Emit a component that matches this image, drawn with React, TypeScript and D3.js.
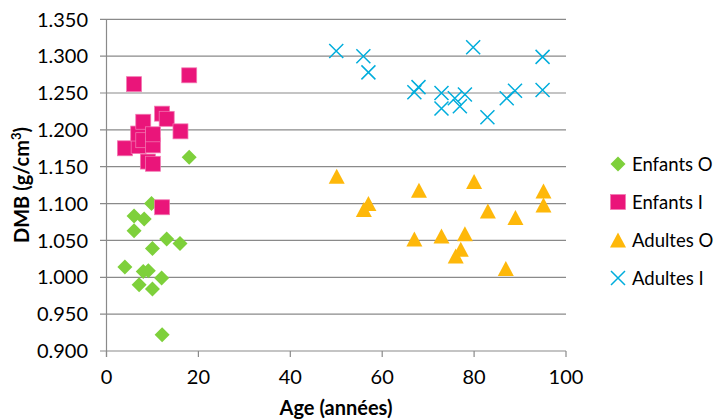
import React from "react";
import * as d3 from "d3";

const enfantsO: [number, number][] = [
  [9.8, 1.1], [6.0, 1.083], [8.2, 1.079], [6.0, 1.063], [13.1, 1.052], [16.0, 1.046],
  [10.0, 1.039], [4.0, 1.014], [8.0, 1.008], [9.1, 1.009], [12.0, 0.999], [7.1, 0.99],
  [10.0, 0.984], [12.1, 0.922], [18.0, 1.163],
];
const enfantsI: [number, number][] = [
  [4.0, 1.175], [6.0, 1.262], [7.0, 1.178], [6.9, 1.195], [8.0, 1.211], [8.0, 1.186],
  [9.0, 1.157], [10.1, 1.154], [10.1, 1.179], [10.1, 1.194], [12.1, 1.222], [13.1, 1.215],
  [16.1, 1.198], [18.0, 1.274], [12.1, 1.095],
];
const adultesO: [number, number][] = [
  [50.1, 1.137], [57.0, 1.1], [56.0, 1.092], [68.0, 1.118], [80.0, 1.13], [95.1, 1.117],
  [95.1, 1.098], [83.0, 1.09], [89.0, 1.081], [67.0, 1.052], [72.9, 1.056], [78.0, 1.059],
  [77.1, 1.038], [76.0, 1.029], [86.9, 1.012],
];
const adultesI: [number, number][] = [
  [50.0, 1.307], [55.9, 1.3], [57.0, 1.278], [67.0, 1.251], [67.9, 1.258], [72.9, 1.25],
  [72.9, 1.229], [75.8, 1.243], [76.9, 1.232], [78.0, 1.248], [79.8, 1.312], [82.9, 1.217],
  [87.1, 1.243], [88.9, 1.253], [94.9, 1.299], [94.9, 1.254],
];
const xTicks = [0, 20, 40, 60, 80, 100];
const yTicks = [0.9, 0.95, 1.0, 1.05, 1.1, 1.15, 1.2, 1.25, 1.3, 1.35];
const seriesNames = ["Enfants O", "Enfants I", "Adultes O", "Adultes I"];
const colors = ["#7ED03B", "#EA157A", "#FEB80A", "#00ADDC"];

const FONT = "Lato, 'Open Sans', sans-serif";

function Marker({ kind, x, y }: { kind: number; x: number; y: number }) {
  const c = colors[kind];
  if (kind === 0) {
    const r = 7.5;
    return <path d={`M${x},${y - r}L${x + r},${y}L${x},${y + r}L${x - r},${y}Z`} fill={c} />;
  }
  if (kind === 1) {
    const s = 15;
    return <rect x={x - s / 2} y={y - s / 2} width={s} height={s} fill={c} stroke="#f27ab3" strokeWidth={0.75} />;
  }
  if (kind === 2) {
    const w = 16, h = 15;
    return <path d={`M${x},${y - h / 2}L${x + w / 2},${y + h / 2}L${x - w / 2},${y + h / 2}Z`} fill={c} />;
  }
  const r = 7;
  return (
    <path d={`M${x - r},${y - r}L${x + r},${y + r}M${x - r},${y + r}L${x + r},${y - r}`} stroke={c} strokeWidth={1.5} fill="none" />
  );
}

export default function App() {
  const W = 715, H = 420;
  const x = d3.scaleLinear().domain([0, 100]).range([106.5, 566]);
  const y = d3.scaleLinear().domain([0.9, 1.35]).range([351, 19.3]);
  const data = [enfantsO, enfantsI, adultesO, adultesI];
  const grid = "#8a8a8a";
  const legendY = [164, 202, 240, 278];
  const fs = 20;
  return (
    <svg width={W} height={H} style={{ position: "absolute", left: 0, top: 0 }} fontFamily={FONT}>
      <rect width={W} height={H} fill="#fff" />
      {yTicks.map((t) => (
        <g key={t}>
          <line x1={100} x2={566} y1={y(t)} y2={y(t)} stroke={grid} strokeWidth={1.2} />
          <text x={88} y={y(t)} dy="0.36em" textAnchor="end" fontSize={fs} fill="#000">
            {d3.format(".3f")(t)}
          </text>
        </g>
      ))}
      <line x1={x(0)} x2={x(0)} y1={y(1.35)} y2={y(0.9) + 6} stroke={grid} strokeWidth={1.2} />
      {xTicks.map((t) => (
        <g key={t}>
          <line x1={x(t)} x2={x(t)} y1={y(0.9)} y2={y(0.9) + 6} stroke={grid} strokeWidth={1.2} />
          <text x={x(t)} y={384} textAnchor="middle" fontSize={fs} fill="#000">
            {t}
          </text>
        </g>
      ))}
      {data.map((s, k) => (
        <g key={k}>
          {s.map((d, i) => (
            <Marker key={i} kind={k} x={x(d[0])} y={y(d[1])} />
          ))}
        </g>
      ))}
      <text x={336} y={415} textAnchor="middle" fontSize={fs} fontWeight="bold">
        Age (années)
      </text>
      <text transform={`translate(29,185) rotate(-90)`} textAnchor="middle" fontSize={fs} fontWeight="bold">
        DMB (g/cm<tspan dy={-8} fontSize={13}>3</tspan><tspan dy={8}>)</tspan>
      </text>
      {seriesNames.map((n, k) => (
        <g key={n}>
          <Marker kind={k} x={618} y={legendY[k]} />
          <text x={632} y={legendY[k]} dy="0.36em" fontSize={18.5}>
            {n}
          </text>
        </g>
      ))}
    </svg>
  );
}
